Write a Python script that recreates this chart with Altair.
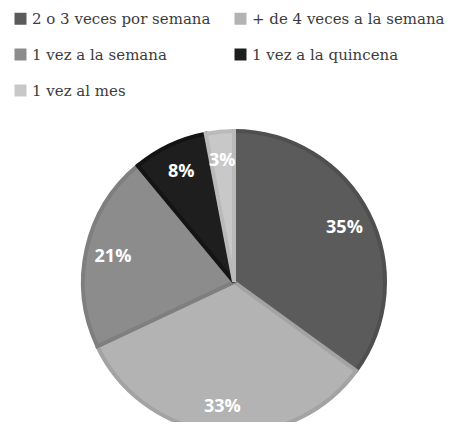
import altair as alt
import pandas as pd

categories = ["2 o 3 veces por semana", "+ de 4 veces a la semana",
              "1 vez a la semana", "1 vez a la quincena", "1 vez al mes"]
values = [35, 33, 21, 8, 3]
labels = ["35%", "33%", "21%", "8%", "3%"]
fill_colors = ["#5b5b5b", "#b3b3b3", "#8c8c8c", "#1e1e1e", "#c8c8c8"]
edge_colors = ["#4f4f4f", "#a3a3a3", "#7f7f7f", "#141414", "#bababa"]

df = pd.DataFrame({
    "cat": categories,
    "val": values,
    "lab": labels,
    "idx": list(range(len(categories))),
})

cx, cy = 226, 274
serif = "DejaVu Serif"

base = alt.Chart(df).encode(
    theta=alt.Theta("val:Q", stack=True),
    order=alt.Order("idx:O"),
)

arcs = base.mark_arc(outerRadius=151, strokeWidth=4).encode(
    x=alt.value(cx), y=alt.value(cy),
    color=alt.Color(
        "cat:N",
        scale=alt.Scale(domain=categories, range=fill_colors),
        sort=categories,
        legend=alt.Legend(
            title=None, orient="none", legendX=5, legendY=3, columns=2,
            direction="horizontal",
            columnPadding=22, rowPadding=20, symbolType="square",
            symbolSize=144, symbolStrokeWidth=0, labelFont=serif,
            labelFontSize=15, labelColor="#3c3c3c", labelOffset=4,
            labelLimit=400,
        ),
    ),
    stroke=alt.Stroke("cat:N", scale=alt.Scale(domain=categories, range=edge_colors),
                      legend=None),
)

text = base.mark_text(radius=124, dy=2, font="Open Sans", fontSize=18,
                      fontWeight="bold", color="white").encode(
    x=alt.value(cx), y=alt.value(cy),
    text="lab:N",
)

chart = alt.layer(arcs, text).properties(
    width=447, height=414,
    autosize=alt.AutoSizeParams(type="none"),
    padding=0,
).configure(background="white").configure_view(stroke=None)

chart.save("out.html", embed_options={"renderer": "svg", "actions": False})
